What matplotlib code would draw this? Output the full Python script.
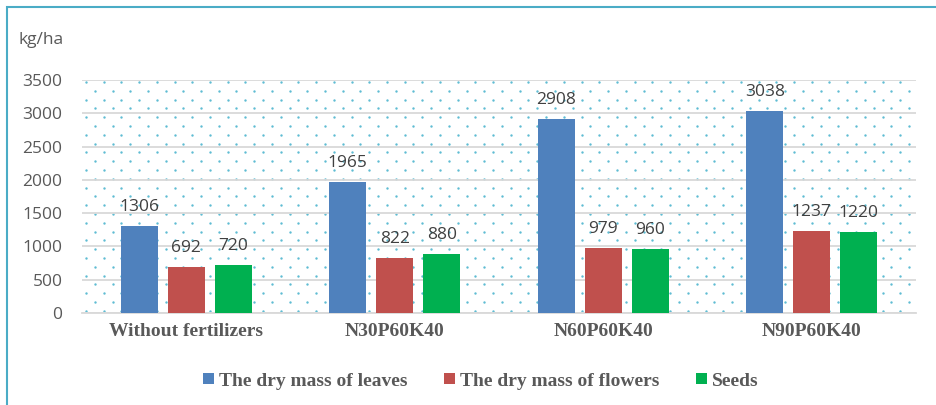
import numpy as np
import matplotlib
matplotlib.use('Agg')
import matplotlib.pyplot as plt
from matplotlib.patches import Rectangle

# Chart data
categories = ['Without fertilizers', 'N30P60K40', 'N60P60K40', 'N90P60K40']
series_names = ['The dry mass of leaves', 'The dry mass of flowers', 'Seeds']
leaves = [1306, 1965, 2908, 3038]
flowers = [692, 822, 979, 1237]
seeds = [720, 880, 960, 1220]
colors = ['#4f81bd', '#c0504d', '#00b050']

plt.rcParams['font.family'] = ['Open Sans', 'DejaVu Sans']

W, H = 936, 405
fig = plt.figure(figsize=(W / 100, H / 100), dpi=100)
ax_left, ax_right, ax_top, ax_bot = 82, 916, 80, 313
ax = fig.add_axes([ax_left / W, 1 - ax_bot / H, (ax_right - ax_left) / W, (ax_bot - ax_top) / H])

# dotted plot background (staggered dot pattern)
dx, dy = 17.7, 8.8
pw, ph = ax_right - ax_left, ax_bot - ax_top
dots_x, dots_y = [], []
row = 0
yy = 2.0
while yy < ph:
    xx = 4.0 + (dx / 2 if row % 2 else 0)
    while xx < pw:
        dots_x.append(xx / pw)
        dots_y.append(1 - yy / ph)
        xx += dx
    yy += dy
    row += 1
ax.scatter(dots_x, dots_y, s=3, color='#5fbcd3', linewidths=0, transform=ax.transAxes,
           zorder=0, clip_on=True)

x = np.arange(len(categories))
width = 0.178
step = 0.225
for i, (vals, name) in enumerate(zip([leaves, flowers, seeds], series_names)):
    bars = ax.bar(x + (i - 1) * step, vals, width, color=colors[i], label=name, zorder=3)
    for b, v in zip(bars, vals):
        ax.annotate(str(v), (b.get_x() + b.get_width() / 2, v), xytext=(0, 8),
                    textcoords='offset points', ha='center', va='bottom',
                    fontsize=12.5, color='#404040', zorder=4)

ax.set_xlim(-0.5, len(categories) - 0.5)
ax.set_ylim(0, 3500)
ax.set_yticks(range(0, 3501, 500))
ax.yaxis.grid(True, color='#d9d9d9', linewidth=1.3, zorder=1)
ax.set_axisbelow(True)
for s in ['top', 'right', 'left']:
    ax.spines[s].set_visible(False)
ax.spines['bottom'].set_color('#d9d9d9')
ax.spines['bottom'].set_linewidth(1.3)
ax.tick_params(axis='y', length=0, labelsize=12.5, labelcolor='#595959', pad=14)
ax.tick_params(axis='x', length=0, pad=7)
ax.set_xticks(x)
ax.set_xticklabels(categories, fontsize=14, fontweight='bold', color='#595959',
                   family='Liberation Serif')

fig.text(18 / W, 1 - 40 / H, 'kg/ha', fontsize=12.5, color='#595959', va='center')

leg = fig.legend(loc='center', bbox_to_anchor=(481 / W, 1 - 381 / H), ncol=3, frameon=False,
                 prop={'family': 'Liberation Serif', 'weight': 'bold', 'size': 14},
                 handlelength=0.55, handleheight=0.55, handletextpad=0.25, columnspacing=1.9)
for t in leg.get_texts():
    t.set_color('#595959')

# figure border
fig.patches.append(Rectangle((7 / W, -0.1), 1.1, 1 - 7 / H + 0.1, transform=fig.transFigure,
                             fill=False, edgecolor='#4bacc6', linewidth=1.5))

fig.savefig('out.png', dpi=100)
